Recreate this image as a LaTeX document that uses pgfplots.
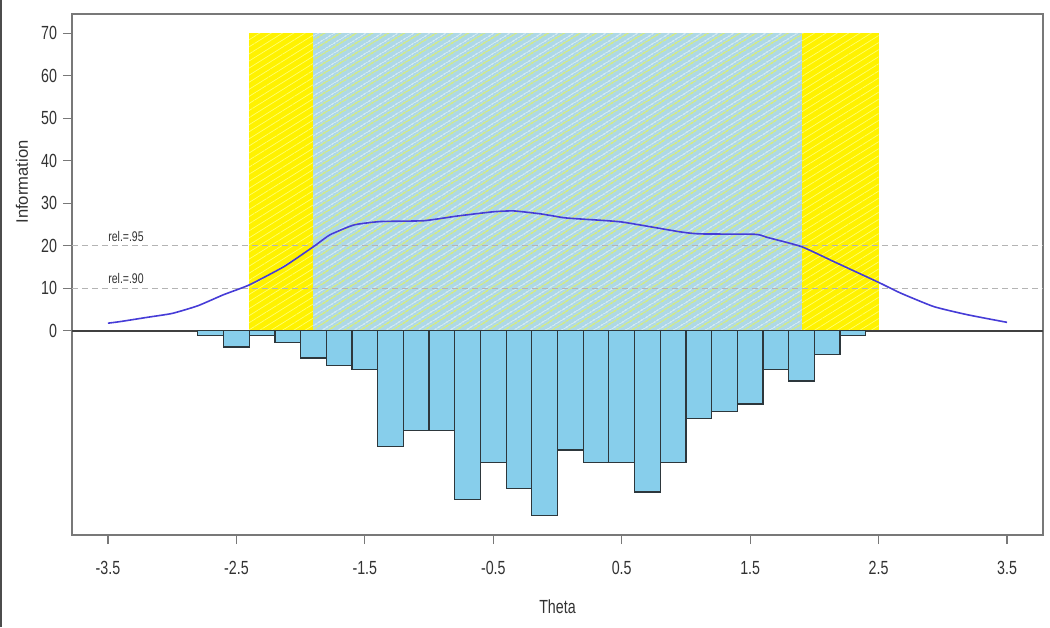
\documentclass[border=0pt]{standalone}
\usepackage{fontspec}
\setmainfont{Liberation Sans}[FakeStretch=0.75]
\newfontfamily\rotfont{Liberation Sans}
\usepackage{pgfplots}
\pgfplotsset{compat=1.18}
\usetikzlibrary{patterns.meta}
\definecolor{barblue}{RGB}{135,206,235}
\definecolor{lblue}{RGB}{173,216,230}
\definecolor{curveblue}{RGB}{70,60,215}
\definecolor{framegray}{RGB}{120,120,120}
\definecolor{txtgray}{RGB}{50,50,50}
\definecolor{hatchyel}{RGB}{220,240,110}
\definecolor{hatchwht}{RGB}{215,235,245}
\definecolor{yelline}{RGB}{255,255,110}
\begin{document}
\begin{tikzpicture}
\useasboundingbox (-36pt,-46pt) rectangle (489pt,267.5pt);
\begin{axis}[
  at={(0,0)}, anchor=south west,
  scale only axis, width=485.5pt, height=260.5pt,
  xmin=-3.78, xmax=3.78, ymin=-48, ymax=74.5,
  axis line style={framegray, line width=0.8pt},
  xtick={-3.5,-2.5,-1.5,-0.5,0.5,1.5,2.5,3.5},
  xticklabels={-3.5,-2.5,-1.5,-0.5,0.5,1.5,2.5,3.5},
  ytick={0,10,20,30,40,50,60,70},
  tick align=outside, xtick pos=bottom, ytick pos=left,
  major tick length=4.5pt,
  tick style={framegray, line width=0.6pt},
  ticklabel style={font=\fontsize{9.5}{10}\selectfont, text=txtgray},
  /pgf/number format/assume math mode=true,
  xticklabel style={anchor=center, yshift=-12pt},
  yticklabel style={anchor=east, xshift=0.5pt},
  xlabel={Theta},
  xlabel style={at={(axis description cs:0.5,-0.138)}, anchor=center, font=\fontsize{9.5}{10}\selectfont, text=txtgray},
  ylabel={\rotfont Information},
  ylabel style={at={(axis description cs:-0.0515,0.6776)}, anchor=center, rotate=0, font=\fontsize{8.3}{10}\selectfont, text=txtgray},
  clip=false,
]
% yellow band
\addplot[fill=yellow, draw=none] coordinates {(-2.4,0) (-2.4,70) (2.5,70) (2.5,0)} -- cycle;
\addplot[draw=none, pattern={Lines[angle=32, distance=3pt, line width=0.35pt]}, pattern color=yelline] coordinates {(-2.4,0) (-2.4,70) (2.5,70) (2.5,0)} -- cycle;
% light blue band
\addplot[fill=lblue, draw=none] coordinates {(-1.9,0) (-1.9,70) (1.9,70) (1.9,0)} -- cycle;
\addplot[draw=none, pattern={Lines[angle=32, distance=4pt, line width=0.6pt]}, pattern color=hatchyel] coordinates {(-1.9,0) (-1.9,70) (1.9,70) (1.9,0)} -- cycle;
\addplot[draw=none, pattern={Lines[angle=32, distance=4pt, line width=0.35pt, yshift=2pt]}, pattern color=hatchwht] coordinates {(-1.9,0) (-1.9,70) (1.9,70) (1.9,0)} -- cycle;
% reliability lines
\addplot[draw={rgb,255:red,180;green,180;blue,180}, dash pattern=on 3pt off 2pt, line width=0.5pt] coordinates {(-3.78,20) (3.78,20)};
\addplot[draw={rgb,255:red,180;green,180;blue,180}, dash pattern=on 3pt off 2pt, line width=0.5pt] coordinates {(-3.78,10) (3.78,10)};
% zero line
\addplot[draw=black!75, line width=0.8pt] coordinates {(-3.78,0) (3.78,0)};
% information curve
\addplot[draw=curveblue, line width=0.8pt, smooth, tension=0.3] coordinates {
(-3.5,1.8) (-3.4,2.2) (-3.19,3.2) (-3.0,4.1) (-2.8,5.9) (-2.6,8.5) (-2.4,10.8)
(-2.13,15.1) (-1.9,19.8) (-1.77,22.6) (-1.585,24.9) (-1.38,25.7) (-1.04,25.9)
(-0.78,27.0) (-0.5,28.0) (-0.34,28.2) (-0.13,27.5) (0.05,26.6) (0.18,26.3)
(0.5,25.6) (0.95,23.3) (1.11,22.8) (1.54,22.7) (1.63,22.0) (1.9,19.8)
(2.15,16.3) (2.5,11.4) (2.67,8.9) (2.93,5.7) (3.19,3.8) (3.5,2.0)};
% histogram
\addplot[ybar, bar width=0.2, bar shift=0pt, fill=barblue, draw={rgb,255:red,45;green,55;blue,60}, line width=0.6pt] coordinates {
(-2.7,-1.0) (-2.5,-3.8) (-2.3,-1.0) (-2.1,-2.75) (-1.9,-6.4) (-1.7,-8.1) (-1.5,-9.1)
(-1.3,-27.1) (-1.1,-23.4) (-0.9,-23.4) (-0.7,-39.7) (-0.5,-30.9) (-0.3,-37.1) (-0.1,-43.5)
(0.1,-28.0) (0.3,-30.9) (0.5,-30.9) (0.7,-37.9) (0.9,-30.9) (1.1,-20.7) (1.3,-18.9)
(1.5,-17.2) (1.7,-9.1) (1.9,-11.8) (2.1,-5.5) (2.3,-1.0)};
% labels
\node[anchor=south west, inner sep=0pt, font=\fontsize{7}{8}\selectfont, text=txtgray] at (axis cs:-3.5,21) {rel.=.95};
\node[anchor=south west, inner sep=0pt, font=\fontsize{7}{8}\selectfont, text=txtgray] at (axis cs:-3.5,11) {rel.=.90};
\end{axis}
\draw[black!70, line width=1pt] (-35.5pt,-46pt) -- (-35.5pt,267.5pt);
\end{tikzpicture}
\end{document}
